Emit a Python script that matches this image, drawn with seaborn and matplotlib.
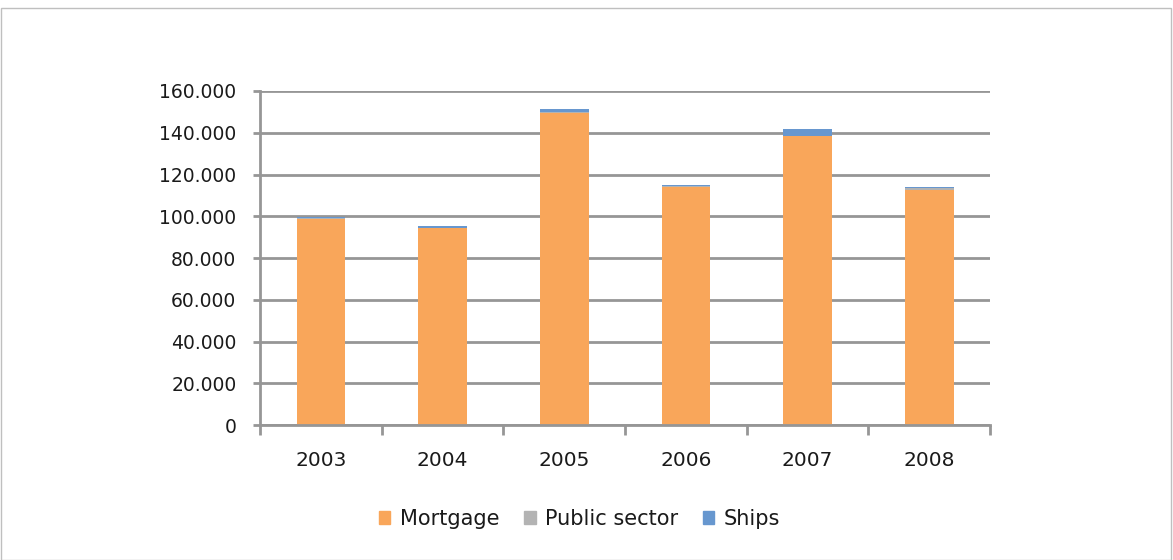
import matplotlib
matplotlib.use("Agg")
import matplotlib.pyplot as plt
import seaborn as sns
import pandas as pd
import numpy as np
from matplotlib.ticker import FuncFormatter, FixedLocator
from matplotlib.patches import Rectangle, Patch

years = ["2003", "2004", "2005", "2006", "2007", "2008"]
mortgage = [98800, 94300, 149700, 114100, 138400, 112600]
public_sector = [200, 100, 100, 300, 100, 800]
ships = [600, 700, 1400, 600, 3300, 600]

colors = {"Mortgage": "#F9A65A", "Public sector": "#B3B3B3", "Ships": "#6797CF"}

sns.set_theme(style="white")
plt.rcParams["font.family"] = ["DejaVu Sans"]

df = pd.DataFrame({"year": years, "Mortgage": mortgage,
                   "Public sector": public_sector, "Ships": ships})
df["mp"] = df["Mortgage"] + df["Public sector"]
df["total"] = df["mp"] + df["Ships"]

fig = plt.figure(figsize=(11.73, 5.6), dpi=100)
fig.patches.append(Rectangle((0.0005, 0.0005), 0.998, 0.985, transform=fig.transFigure,
                             fill=False, edgecolor="#BFBFBF", linewidth=1.0))
ax = fig.add_axes([0.2217, 0.241, 0.6223, 0.5965])

for col, c in [("total", colors["Ships"]), ("mp", colors["Public sector"]),
               ("Mortgage", colors["Mortgage"])]:
    sns.barplot(data=df, x="year", y=col, color=c, width=0.4, ax=ax,
                saturation=1, linewidth=0, zorder=3)

ax.set_ylim(0, 160000)
ax.set_xlim(-0.5, 5.5)
ax.yaxis.set_major_locator(FixedLocator(np.arange(0, 160001, 20000)))
ax.yaxis.set_major_formatter(FuncFormatter(lambda v, p: f"{int(v):,}".replace(",", ".")))
ax.grid(axis="y", color="#969696", linewidth=2, zorder=0)
ax.set_axisbelow(True)
ax.set_xlabel("")
ax.set_ylabel("")

for s in ["top", "right"]:
    ax.spines[s].set_visible(False)
for s in ["left", "bottom"]:
    ax.spines[s].set_color("#969696")
    ax.spines[s].set_linewidth(2)
    ax.spines[s].set_zorder(4)

ax.tick_params(axis="y", which="major", left=True, length=5, width=2, color="#969696",
               pad=12, labelsize=13.5, labelcolor="#1a1a1a")
ax.set_xticks(np.arange(len(years)))
ax.set_xticks(np.arange(-0.5, len(years), 1.0), minor=True)
ax.tick_params(axis="x", which="major", bottom=False, length=0, pad=19, labelsize=14.5,
               labelcolor="#1a1a1a")
ax.tick_params(axis="x", which="minor", bottom=True, length=7, width=2, color="#969696")

handles = [Patch(color=colors[k], label=k) for k in ["Mortgage", "Public sector", "Ships"]]
leg = fig.legend(handles=handles, loc="center", bbox_to_anchor=(0.494, 0.073), ncol=3,
                 frameon=False, fontsize=15, handlelength=0.55, handleheight=0.55,
                 handletextpad=0.45, columnspacing=1.2)
for t in leg.get_texts():
    t.set_color("#1a1a1a")

fig.savefig("out.png", dpi=100)
